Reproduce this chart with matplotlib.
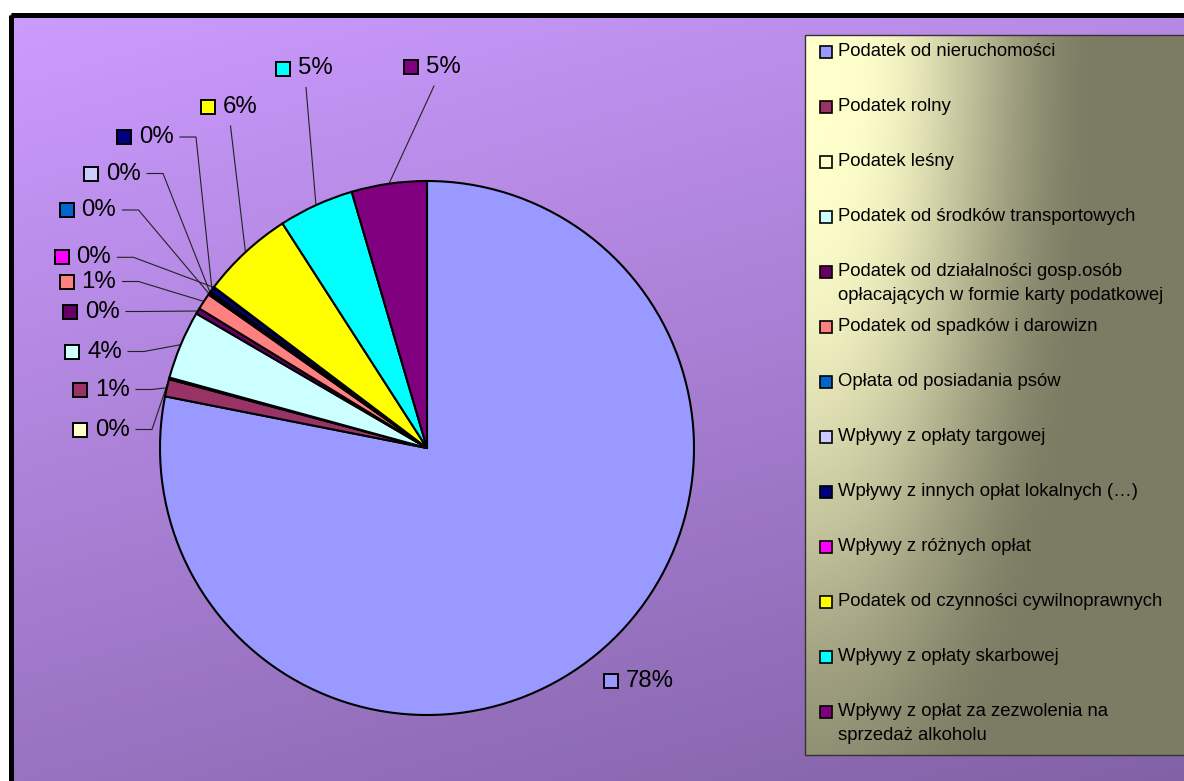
import numpy as np
import matplotlib
matplotlib.use("Agg")
import matplotlib.pyplot as plt
import matplotlib.patches as patches
from matplotlib.colors import to_rgb

plt.rcParams['font.family'] = ['Liberation Sans', 'DejaVu Sans']

# dane
categories = [
    "Podatek od nieruchomości",
    "Podatek rolny",
    "Podatek leśny",
    "Podatek od środków transportowych",
    "Podatek od działalności gosp.osób\nopłacających w formie karty podatkowej",
    "Podatek od spadków i darowizn",
    "Opłata od posiadania psów",
    "Wpływy z opłaty targowej",
    "Wpływy z innych opłat lokalnych (…)",
    "Wpływy z różnych opłat",
    "Podatek od czynności cywilnoprawnych",
    "Wpływy z opłaty skarbowej",
    "Wpływy z opłat za zezwolenia na\nsprzedaż alkoholu",
]
shares = [78.1, 1.05, 0.1, 4.15, 0.35, 1.0, 0.1, 0.1, 0.3, 0.05, 5.6, 4.55, 4.55]
colors = ["#9999FF", "#993366", "#FFFFCC", "#CCFFFF", "#660066", "#FF8080", "#0066CC",
          "#CCCCFF", "#000080", "#FF00FF", "#FFFF00", "#00FFFF", "#800080"]

# uklad etykiet (piksele: srodek kwadratu) i styl linii
label_pos = [(611, 681), (80, 389.5), (80, 429.5), (72, 351.5), (70, 311.5), (66.5, 281.5),
             (66.5, 210), (91, 173.5), (124, 137), (61.5, 257.3), (207.5, 107), (283, 68.5), (411, 67)]
leader = ['none', 'left', 'left', 'left', 'left', 'left', 'left', 'left', 'left', 'left',
          'top', 'top', 'top']

W, H = 1184, 781
cx, cy, R = 427, 448, 267

fig = plt.figure(figsize=(W / 100, H / 100), dpi=100, facecolor='white')

# tlo
bg = fig.add_axes([0, 0, 1, 1])
bg.set_xlim(0, W)
bg.set_ylim(H, 0)
bg.axis('off')

yy, xx = np.mgrid[0:H:2, 0:W:2]
t = np.clip(0.3 * xx / W + 0.7 * yy / H, 0, 1)[..., None]
c1, c2 = np.array(to_rgb("#CC9BFF")), np.array(to_rgb("#8262A6"))
bg.imshow(c1 + (c2 - c1) * t, extent=(10, W, H, 14), aspect='auto', zorder=0)
bg.add_patch(patches.Rectangle((10.5, 14.5), W, H, fill=False, edgecolor='black', lw=3.6, zorder=2))

# legenda z gradientem
lx0, ly0, lx1, ly1 = 805, 35, W, 755
gy, gx = np.mgrid[ly0:ly1:2, lx0:lx1:2]
r = np.sqrt(((gx - lx0) / 270.0) ** 2 + ((gy - ly0) / 830.0) ** 2)
s = np.clip((r - 0.15) / 0.95, 0, 1)
f = (1 - (3 * s ** 2 - 2 * s ** 3))[..., None]
light, dark = np.array(to_rgb("#FFFFCC")), np.array(to_rgb("#7C7C64"))
bg.imshow(dark + (light - dark) * f, extent=(lx0, lx1, ly1, ly0), aspect='auto', zorder=3)
bg.add_patch(patches.Rectangle((lx0, ly0), lx1 - lx0 + 5, ly1 - ly0, fill=False,
                               edgecolor='#333333', lw=1, zorder=4))
for i, (name, col) in enumerate(zip(categories, colors)):
    y = 51.7 + 55 * i
    bg.plot(826, y, marker='s', ms=8.5, mfc=col, mec='black', mew=1.2, zorder=5)
    for j, line in enumerate(name.split("\n")):
        bg.text(838, y + 23.5 * j, line, fontsize=13.3, va='center', ha='left', zorder=5)

# wykres kolowy
ax = fig.add_axes([(cx - R) / W, (H - cy - R) / H, 2 * R / W, 2 * R / H])
ax.patch.set_alpha(0)
wedges, _ = ax.pie(shares, colors=colors, startangle=90, counterclock=False,
                   wedgeprops=dict(edgecolor='black', linewidth=1.5))
ax.set_xlim(-1, 1)
ax.set_ylim(-1, 1)
ax.set_aspect('equal')
ax.axis('off')

total = sum(shares)
for i, w in enumerate(wedges):
    mid = np.deg2rad((w.theta1 + w.theta2) / 2)
    axp, ayp = cx + R * np.cos(mid), cy - R * np.sin(mid)
    sx, sy = label_pos[i]
    bg.plot(sx, sy, marker='s', ms=10.5, mfc=colors[i], mec='black', mew=1.4, zorder=6)
    bg.text(sx + 15, sy, f"{shares[i] / total * 100:.0f}%", fontsize=17.3, va='center', ha='left', zorder=6)
    if leader[i] == 'left':
        bg.plot([sx + 56, sx + 72, axp], [sy, sy, ayp], color='#222222', lw=0.8, zorder=6)
    elif leader[i] == 'top':
        bg.plot([sx + 23, axp], [sy + 19, ayp], color='#222222', lw=0.8, zorder=6)

fig.savefig("out.png", dpi=100)
